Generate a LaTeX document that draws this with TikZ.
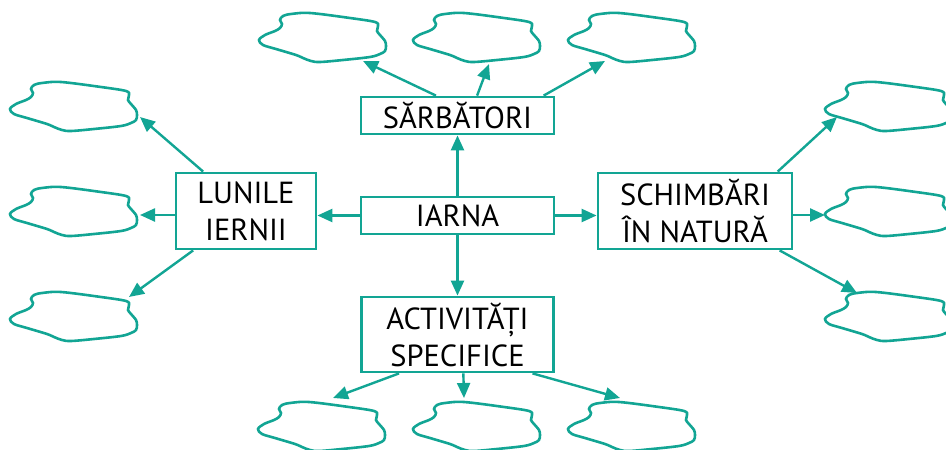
\documentclass[tikz,border=0pt]{standalone}
\usepackage{fontspec}
\setmainfont{PT Sans}
\usetikzlibrary{arrows.meta,calc}
\definecolor{teal1}{HTML}{12A594}
\tikzset{
  box/.style={draw=teal1, line width=2.8pt, fill=white, inner sep=0pt, align=center,
    font=\fontsize{30.5}{37}\selectfont, text=black},
  conn/.style={draw=teal1, line width=2.4pt, -{Triangle[length=15pt,width=13pt]}},
  cloudline/.style={draw=teal1, line width=2.6pt},
  pics/cloud/.style={code={
    \draw[cloudline] plot[smooth cycle, tension=0.55] coordinates {
      (0,27) (6,22) (16,18) (21,15) (23,11) (21,7) (24,3) (32,1) (51,0) (91,5)
      (116,9) (119,13) (118,18) (121,22) (126,28) (127,33) (126,38) (121,41)
      (111,44) (84,47) (61,49) (52,48) (44,45) (37,42) (17,36) (4,32)};
  }}
}
\begin{document}
\begin{tikzpicture}[x=1pt,y=-1pt]
\useasboundingbox (0,0) rectangle (946,450);
\clip (0,0) rectangle (946,450);

% clouds
\pic (c1) at (259,13) {cloud};
\pic (c2) at (413,13) {cloud};
\pic (c3) at (568,13) {cloud};
\pic (c4) at (10,82) {cloud};
\pic (c5) at (10,187) {cloud};
\pic (c6) at (10,292) {cloud};
\pic (c7) at (825,82) {cloud};
\pic (c8) at (825,187) {cloud};
\pic (c9) at (825,292) {cloud};
\pic (c10) at (258,402) {cloud};
\pic (c11) at (413,402) {cloud};
\pic (c12) at (568,402) {cloud};

% boxes
\node[box, minimum width=193pt, minimum height=37pt] (iarna) at (457.5,215.5) {IARNA};
\node[box, minimum width=193pt, minimum height=37pt] (sarb) at (457.5,115.5) {SĂRBĂTORI};
\node[box, minimum width=140pt, minimum height=76pt] (lun) at (246,211) {LUNILE\\IERNII};
\node[box, minimum width=194pt, minimum height=76pt] (sch) at (695,211) {SCHIMBĂRI\\ÎN NATURĂ};
\node[box, minimum width=192pt, minimum height=75pt] (act) at (457.5,334.5) {ACTIVITĂȚI\\SPECIFICE};

% arrow tips at clouds
\coordinate (t1) at (363,61);
\coordinate (t2) at (489,64);
\coordinate (t3) at (605,61);
\coordinate (t4) at (140,117);
\coordinate (t5) at (140,215);
\coordinate (t6) at (129,297);
\coordinate (t7) at (837,117);
\coordinate (t8) at (825,215);
\coordinate (t9) at (857,293);
\coordinate (t10) at (333,398);
\coordinate (t11) at (464,398);
\coordinate (t12) at (620,398);

% center arrows
\draw[conn] (iarna.north) -- (sarb.south);
\draw[conn] (iarna.south) -- (act.north);
\draw[conn] (iarna.west) -- (iarna.west -| lun.east);
\draw[conn] (iarna.east) -- (iarna.east -| sch.west);

% sarbatori
\draw[conn] ($(sarb.north west)!0.39!(sarb.north east)$) -- (t1);
\draw[conn] ($(sarb.north west)!0.60!(sarb.north east)$) -- (t2);
\draw[conn] ($(sarb.north west)!0.94!(sarb.north east)$) -- (t3);
% lunile
\draw[conn] ($(lun.north west)!0.2!(lun.north east)$) -- (t4);
\draw[conn] (t5 -| lun.west) -- (t5);
\draw[conn] ($(lun.south west)!0.13!(lun.south east)$) -- (t6);
% schimbari
\draw[conn] ($(sch.north west)!0.92!(sch.north east)$) -- (t7);
\draw[conn] (t8 -| sch.east) -- (t8);
\draw[conn] ($(sch.south west)!0.93!(sch.south east)$) -- (t9);
% activitati
\draw[conn] ($(act.south west)!0.2!(act.south east)$) -- (t10);
\draw[conn] ($(act.south west)!0.53!(act.south east)$) -- (t11);
\draw[conn] ($(act.south west)!0.885!(act.south east)$) -- (t12);
\end{tikzpicture}
\end{document}
